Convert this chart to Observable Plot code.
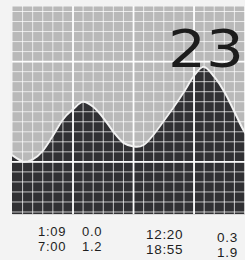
<!DOCTYPE html>
<html>
<head>
<meta charset="utf-8">
<script src="https://cdn.jsdelivr.net/npm/d3@7"></script>
<script src="https://cdn.jsdelivr.net/npm/@observablehq/plot@0.6"></script>
<style>
  html, body { margin: 0; padding: 0; background: #f3f3f3; }
  #wrap { position: relative; width: 245px; height: 260px; overflow: hidden; }
  #chart svg { display: block; }
  .cell { position: absolute; font-family: "Liberation Sans", Arial, sans-serif; color: #1e1e1e; white-space: nowrap; line-height: 1; }
</style>
</head>
<body>
<div id="wrap">
  <div id="chart"></div>
  <div id="table"></div>
</div>
<script>
// Tide curve (hours of the day, height)
const curveHours  = [0, 1, 1.15, 2, 3, 4, 5, 6, 7, 8, 9, 10, 11, 12, 12.33, 13, 14, 15, 16, 17, 18, 18.92, 20, 21, 22, 23, 23.1];
const curveLevels = [0.13, 0.01, 0.0, 0.05, 0.22, 0.52, 0.85, 1.05, 1.2, 1.1, 0.88, 0.6, 0.38, 0.31, 0.3, 0.34, 0.55, 0.82, 1.1, 1.4, 1.72, 1.9, 1.7, 1.4, 1.0, 0.6, 0.57];

// Tide table
const tideTimes   = ["1:09", "7:00", "12:20", "18:55"];
const tideHeights = ["0.0", "1.2", "0.3", "1.9"];

// Day label
const dayLabel = ["23"];

// Grid
const minorHours = d3.range(1, 24);
const majorHours = [6, 12, 18];
const minorLevels = d3.range(-1.0, 3.01, 0.2);
const majorLevels = [0, 2];

const xDomain = [0, 23.1];
const yDomain = [-1.05, 3.1];

const data = curveHours.map((h, i) => ({h, v: curveLevels[i]}));

const plot = Plot.plot({
  width: 245,
  height: 216,
  marginLeft: 12,
  marginTop: 6,
  marginRight: 0,
  marginBottom: 2,
  style: {background: "transparent"},
  x: {domain: xDomain, axis: null},
  y: {domain: yDomain, axis: null},
  marks: [
    Plot.frame({fill: "#b9b9b9", stroke: null}),
    Plot.areaY(data, {x: "h", y1: yDomain[0], y2: "v", fill: "#303033", curve: "monotone-x"}),
    Plot.ruleX(minorHours, {stroke: "#ffffff", strokeOpacity: 0.72, strokeWidth: 1}),
    Plot.ruleY(minorLevels, {stroke: "#ffffff", strokeOpacity: 0.72, strokeWidth: 1}),
    Plot.ruleX(majorHours, {stroke: "#ffffff", strokeOpacity: 0.95, strokeWidth: 1.8}),
    Plot.ruleY(majorLevels, {stroke: "#ffffff", strokeOpacity: 0.95, strokeWidth: 1.8}),
    Plot.lineY(data, {x: "h", y: "v", stroke: "#f2f2f2", strokeWidth: 2, curve: "monotone-x"}),
    Plot.text(dayLabel, {
      text: d => d,
      frameAnchor: "top-right",
      textAnchor: "end",
      lineAnchor: "top",
      dx: -1.5,
      dy: 24,
      fontSize: 51,
      fontFamily: "DejaVu Sans",
      fill: "#1c1c1c"
    })
  ]
});
document.getElementById("chart").appendChild(plot);
const t = plot.querySelector("text");
if (t) { t.setAttribute("textLength", 76); t.setAttribute("lengthAdjust", "spacingAndGlyphs"); }

// Tide table below the chart: one cell per value
const cells = [
  {text: tideTimes[0],   left: 38,  base: 236,   fs: 13},
  {text: tideTimes[1],   left: 38,  base: 251,   fs: 13},
  {text: tideHeights[0], left: 82,  base: 236,   fs: 13},
  {text: tideHeights[1], left: 82,  base: 251,   fs: 13},
  {text: tideTimes[2],   left: 146, base: 239,   fs: 13.5},
  {text: tideTimes[3],   left: 146, base: 254.5, fs: 13.5},
  {text: tideHeights[2], left: 217, base: 242,   fs: 13.5},
  {text: tideHeights[3], left: 217, base: 257.5, fs: 13.5}
];
const table = document.getElementById("table");
cells.forEach(c => {
  const d = document.createElement("div");
  d.className = "cell";
  // line-height 1: baseline sits at (fs - 1.117 fs)/2 + 0.905 fs below the top
  const off = (c.fs - 1.117 * c.fs) / 2 + 0.905 * c.fs;
  d.style.left = c.left + "px";
  d.style.top = (c.base - off) + "px";
  d.style.fontSize = c.fs + "px";
  d.style.letterSpacing = "0.7px";
  d.textContent = c.text;
  table.appendChild(d);
});
</script>
</body>
</html>
